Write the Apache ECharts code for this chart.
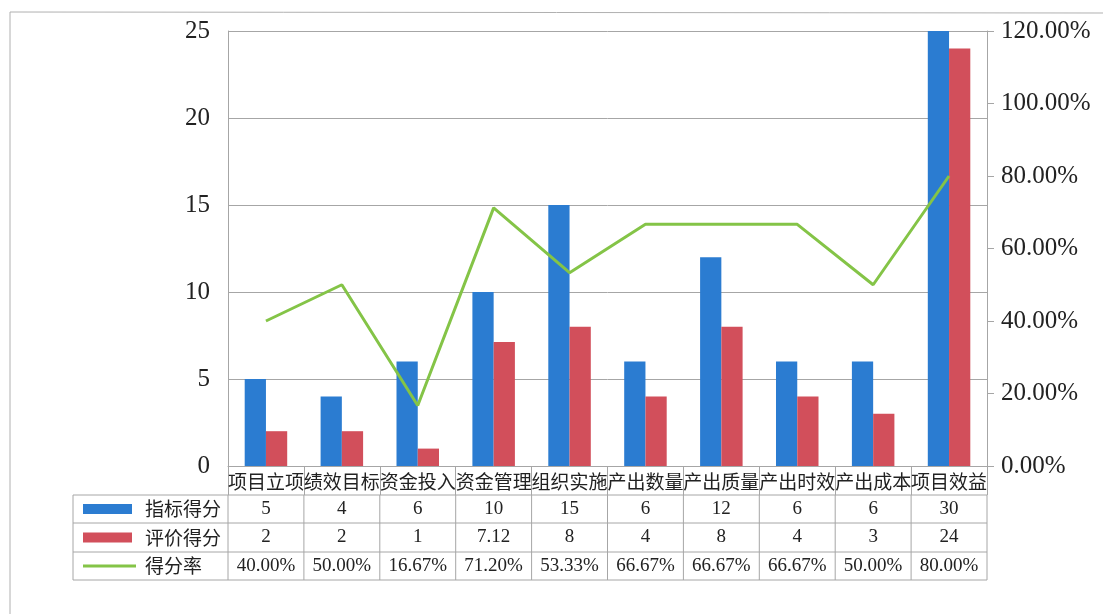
<!DOCTYPE html>
<html>
<head>
<meta charset="utf-8">
<script src="https://cdn.jsdelivr.net/npm/echarts@6/dist/echarts.min.js"></script>
<style>html,body{margin:0;padding:0;background:#fff;}#c{width:1103px;height:614px;}</style>
</head>
<body>
<div id="c"></div>
<script>
const categories = ['项目立项','绩效目标','资金投入','资金管理','组织实施','产出数量','产出质量','产出时效','产出成本','项目效益'];
const indexScores = [5,4,6,10,15,6,12,6,6,30];
const evalScores = [2,2,1,7.12,8,4,8,4,3,24];
const scoreRates = [40.00,50.00,16.67,71.20,53.33,66.67,66.67,66.67,50.00,80.00];
const seriesNames = ['指标得分','评价得分','得分率'];
const leftAxisMax = 25, leftAxisStep = 5;
const rightAxisMax = 120, rightAxisStep = 20;

const BLUE = '#2b7cd1', RED = '#d24f5b', GREEN = '#84c447', GRID = '#a6a6a6', TXT = '#222';
const SERIF = '"Liberation Serif","Noto Sans CJK SC",serif';
const CJK = '"Noto Sans CJK SC",sans-serif';

const chart = echarts.init(document.getElementById('c'), null, {renderer:'canvas'});
chart.setOption({
  animation:false,
  backgroundColor:'#fff',
  grid:{left:228, right:116, top:31, bottom:148, containLabel:false},
  xAxis:{
    type:'category', data:categories, boundaryGap:true,
    axisLine:{show:true, lineStyle:{color:GRID,width:1}},
    axisTick:{show:true, interval:0, length:29, lineStyle:{color:GRID}},
    axisLabel:{interval:0, margin:6, fontSize:19, fontFamily:CJK, color:TXT}
  },
  yAxis:[
    {type:'value', min:0, max:leftAxisMax, interval:leftAxisStep,
     axisLine:{show:true, lineStyle:{color:GRID}}, axisTick:{show:false},
     splitLine:{show:true, lineStyle:{color:GRID,width:1}},
     axisLabel:{margin:18, fontSize:25, fontFamily:SERIF, color:TXT}},
    {type:'value', min:0, max:rightAxisMax, interval:rightAxisStep, position:'right',
     axisLine:{show:true, lineStyle:{color:GRID}}, axisTick:{show:true, length:7, lineStyle:{color:GRID}},
     splitLine:{show:false},
     axisLabel:{margin:14, fontSize:25, fontFamily:SERIF, color:TXT,
       formatter:v=>v.toFixed(2)+'%'}}
  ],
  series:[
    {name:seriesNames[0], type:'bar', data:indexScores, barWidth:'28%', barGap:'0%', itemStyle:{color:BLUE}, clip:true},
    {name:seriesNames[1], type:'bar', data:evalScores, barWidth:'28%', barGap:'0%', itemStyle:{color:RED}, clip:true},
    {name:seriesNames[2], type:'line', yAxisIndex:1, data:scoreRates, symbol:'none',
     lineStyle:{color:GREEN,width:3}, itemStyle:{color:GREEN}}
  ]
});

// data table under the chart, positioned from the axis scale
const cx = categories.map(c => chart.convertToPixel({xAxisIndex:0}, c));
const step = cx[1]-cx[0];
const left = cx[0]-step/2, right = left + step*categories.length;
const yBase = chart.convertToPixel({yAxisIndex:0}, 0);
const rows = [yBase+29, yBase+57, yBase+86, yBase+114];
const legendLeft = 73;
const els = [];
const ls = {stroke:GRID, lineWidth:1};
rows.forEach(y => els.push({type:'line', shape:{x1:legendLeft,y1:y,x2:right,y2:y}, style:ls, silent:true}));
els.push({type:'line', shape:{x1:legendLeft,y1:rows[0],x2:legendLeft,y2:rows[3]}, style:ls});
for (let k=0;k<=categories.length;k++){
  const x = left + step*k;
  els.push({type:'line', shape:{x1:x,y1:rows[0],x2:x,y2:rows[3]}, style:ls});
}
const rowValues = [
  indexScores.map(String),
  evalScores.map(String),
  scoreRates.map(v=>v.toFixed(2)+'%')
];
rowValues.forEach((vals, r) => {
  const cy = (rows[r]+rows[r+1])/2;
  vals.forEach((t,i) => els.push({type:'text', x:cx[i], y:cy,
    style:{text:t, font:'19px '+SERIF, fill:TXT, align:'center', verticalAlign:'middle'}}));
  els.push({type:'text', x:145, y:cy,
    style:{text:seriesNames[r], font:'19px '+CJK, fill:TXT, align:'left', verticalAlign:'middle'}});
});
// legend keys
els.push({type:'rect', shape:{x:83,y:(rows[0]+rows[1])/2-5,width:49,height:10}, style:{fill:BLUE}});
els.push({type:'rect', shape:{x:83,y:(rows[1]+rows[2])/2-5,width:49,height:10}, style:{fill:RED}});
els.push({type:'line', shape:{x1:83,y1:(rows[2]+rows[3])/2,x2:136,y2:(rows[2]+rows[3])/2}, style:{stroke:GREEN,lineWidth:3}});
// page frame
els.push({type:'polyline', shape:{points:[[10,614],[10,12],[1103,13]]}, style:{stroke:'#b0b0b0',lineWidth:1,fill:null}});
chart.setOption({graphic:els});
</script>
</body>
</html>
